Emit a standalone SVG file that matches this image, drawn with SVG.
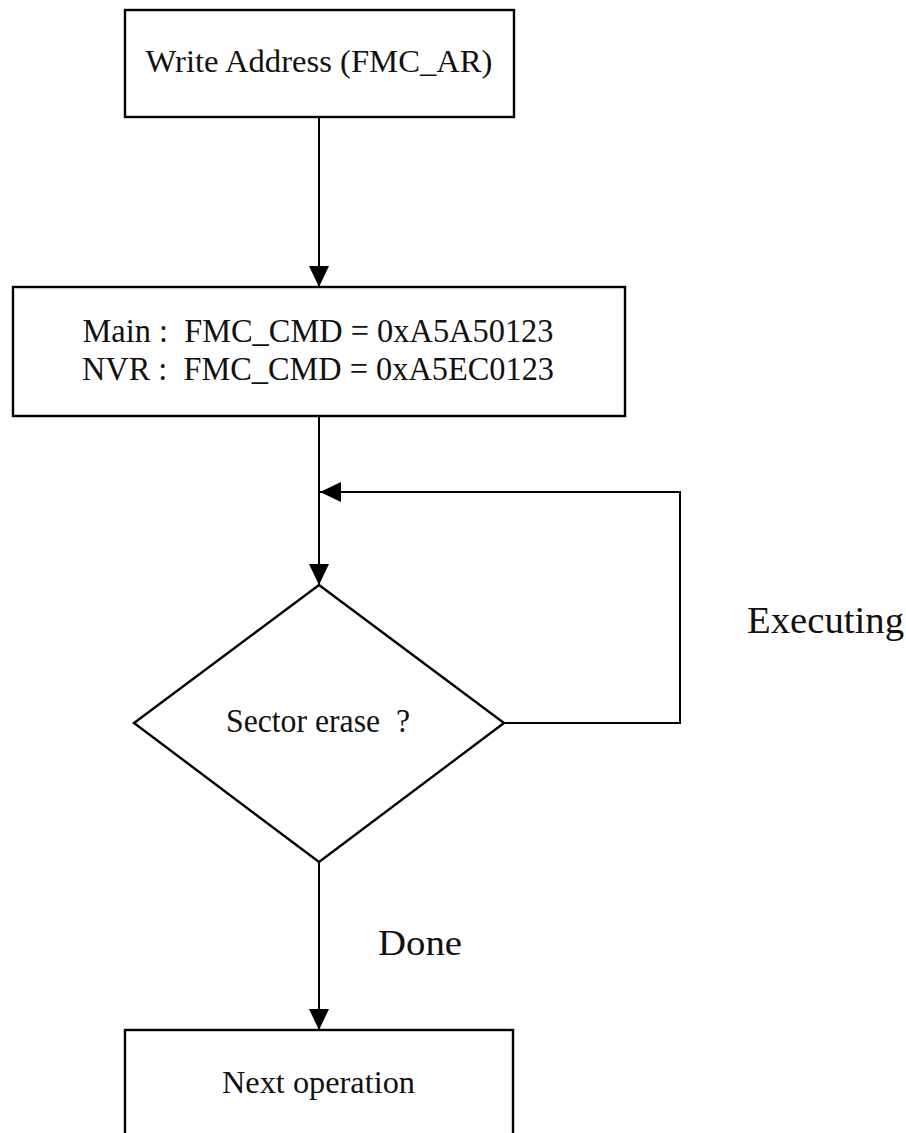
<svg xmlns="http://www.w3.org/2000/svg" width="906" height="1133" viewBox="0 0 906 1133">
  <style>
    .shape { fill: #ffffff; stroke: #000000; stroke-width: 2.4; }
    .wire { fill: none; stroke: #000000; stroke-width: 2; }
    .label { font-family: "Liberation Serif", "Times New Roman", serif; fill: #111111; }
  </style>
  <defs>
    <marker id="arrow" markerUnits="userSpaceOnUse" markerWidth="22" markerHeight="20" refX="21" refY="10" orient="auto">
      <path d="M0,0 L21,10 L0,20 Z" fill="#000000"/>
    </marker>
  </defs>
  <rect width="906" height="1133" fill="#ffffff"/>

  <!-- connectors -->
  <g id="connectors">
    <line class="wire" x1="319" y1="117" x2="319" y2="287" marker-end="url(#arrow)"/>
    <line class="wire" x1="319" y1="416" x2="319" y2="585" marker-end="url(#arrow)"/>
    <polyline class="wire" points="504,723 680,723 680,492 320,492" marker-end="url(#arrow)"/>
    <line class="wire" x1="319" y1="862" x2="319" y2="1030" marker-end="url(#arrow)"/>
    <text class="label" x="747" y="633" font-size="37" textLength="157" lengthAdjust="spacingAndGlyphs">Executing</text>
    <text class="label" x="378" y="955" font-size="36" textLength="84" lengthAdjust="spacingAndGlyphs">Done</text>
  </g>

  <!-- write address step -->
  <g id="node-write-address">
    <rect class="shape" x="125" y="10" width="389" height="107"/>
    <text class="label" x="319" y="72" font-size="31" text-anchor="middle" textLength="347" lengthAdjust="spacingAndGlyphs">Write Address (FMC_AR)</text>
  </g>

  <!-- command write step -->
  <g id="node-command">
    <rect class="shape" x="13" y="287" width="612" height="129"/>
    <text class="label" x="318" y="342" font-size="33" text-anchor="middle" textLength="471" lengthAdjust="spacingAndGlyphs" xml:space="preserve">Main :  FMC_CMD = 0xA5A50123</text>
    <text class="label" x="318" y="380" font-size="33" text-anchor="middle" textLength="472" lengthAdjust="spacingAndGlyphs" xml:space="preserve">NVR :  FMC_CMD = 0xA5EC0123</text>
  </g>

  <!-- status decision -->
  <g id="node-decision">
    <polygon class="shape" points="319,585 504,723 319,862 134,723"/>
    <text class="label" x="226" y="732" font-size="34" textLength="184" lengthAdjust="spacingAndGlyphs" xml:space="preserve">Sector erase  ?</text>
  </g>

  <!-- next step -->
  <g id="node-next">
    <rect class="shape" x="125" y="1030" width="388" height="130"/>
    <text class="label" x="222" y="1093" font-size="32" textLength="193" lengthAdjust="spacingAndGlyphs">Next operation</text>
  </g>
</svg>
